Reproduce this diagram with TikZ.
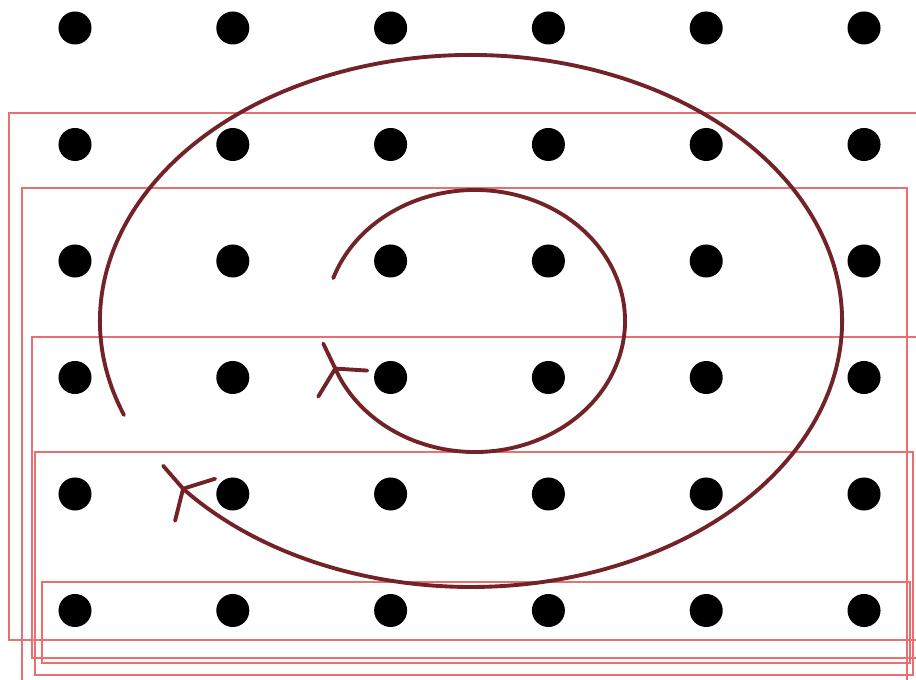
\documentclass[tikz,border=0pt]{standalone}
\usepackage{tikz}
\usetikzlibrary{arrows.meta, calc}

\definecolor{spiralred}{RGB}{115,35,40}
\definecolor{framered}{RGB}{234,112,112}

\begin{document}
\begin{tikzpicture}[x=0.01cm, y=-0.01cm,
    dot/.style={circle, fill=black, inner sep=0pt, minimum size=0.33cm},
    frame/.style={draw=framered, line width=0.6pt},
    spiral/.style={draw=spiralred, line width=1.1pt, line cap=round}]
    \useasboundingbox (0,0) rectangle (916,680);
    \clip (0,0) rectangle (916,680);
    \fill[white] (0,0) rectangle (916,680);

    \draw[frame] (9,113) rectangle (930,640);
    \draw[frame] (22,188) rectangle (907,690);
    \draw[frame] (32,337) rectangle (930,658);
    \draw[frame] (35,452) rectangle (913,675);
    \draw[frame] (42,582) rectangle (910,663);

    \coordinate (cout) at (471,321);
    \coordinate (cin) at (475,321);
    \draw[spiral] ($(cout)+({371*cos(159.3)},{266*sin(159.3)})$)
        arc[start angle=159.3, end angle=500.9, x radius=371, y radius=266]
        coordinate (tipout);
    \draw[spiral] ($(cin)+({150*cos(199.1)},{131*sin(199.1)})$)
        arc[start angle=199.1, end angle=518.7, x radius=150, y radius=131]
        coordinate (tipin);
    \draw[spiral] (tipout) -- ++(-20,-23);
    \draw[spiral] (tipout) -- ++(32,-10);
    \draw[spiral] (tipout) -- ++(-8,32);
    \draw[spiral] (tipin) -- ++(-12,-25);
    \draw[spiral] (tipin) -- ++(32,2);
    \draw[spiral] (tipin) -- ++(-17,28);

    \foreach \i in {0,...,5} {
        \foreach \j in {0,...,5} {
            \node[dot] (d\i\j) at ({75+157.8*\i}, {28+116.5*\j}) {};
        }
    }
\end{tikzpicture}
\end{document}
